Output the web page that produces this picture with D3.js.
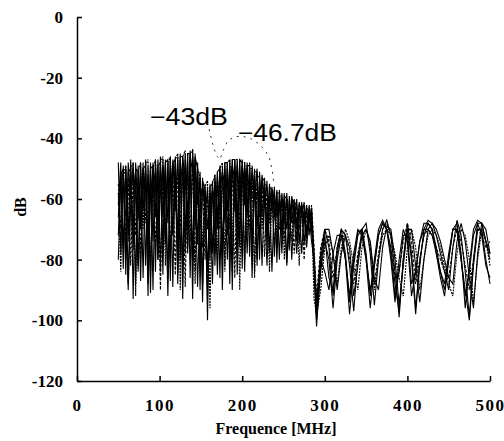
<!DOCTYPE html>
<html>
<head>
<meta charset="utf-8">
<script src="https://cdn.jsdelivr.net/npm/d3@7"></script>
<style>
  body { margin: 0; background: #fff; }
</style>
</head>
<body>
<div id="chart"></div>
<script>
// sampling grids (MHz)
const freqLow = d3.range(50, 291, 3);
const freqHigh = d3.range(290, 501, 5);

const xTicks = [0, 100, 200, 300, 400, 500];
const yTicks = [0, -20, -40, -60, -80, -100, -120];

// 50-290 MHz, dB, one per trace
const lowA = [-48,-78,-49,-85,-48,-60,-48,-88,-49,-70,
  -48,-82,-49,-91,-48,-66,-47,-84,-47,-75,
  -48,-87,-47,-64,-46,-80,-46,-72,-45,-86,
  -43.5,-70,-48,-82,-53,-66,-56,-80,-54,-72,
  -51,-86,-49,-68,-48,-80,-47,-64,-47,-76,
  -47,-62,-48,-79,-49,-60,-50,-74,-52,-63,
  -54,-78,-56,-66,-57,-80,-58,-68,-58,-76,
  -59,-66,-60,-75,-61,-68,-62,-72,-63,-78,
  -98];
const lowB = [-62,-48,-83,-49,-72,-47,-93,-48,-67,-48,
  -86,-47,-74,-48,-90,-47,-70,-46,-85,-47,
  -68,-46,-89,-46,-73,-45,-84,-45,-66,-44,
  -93,-45,-75,-51,-88,-55,-100,-55,-78,-52,
  -70,-49,-90,-48,-72,-47,-84,-47,-66,-47,
  -83,-48,-64,-48,-79,-50,-82,-51,-66,-53,
  -76,-55,-64,-56,-81,-57,-70,-58,-81,-59,
  -68,-60,-74,-61,-66,-61,-73,-62,-68,-82,
  -102];
const lowC = [-72,-52,-50,-80,-51,-50,-77,-50,-51,-87,
  -50,-49,-79,-50,-49,-84,-49,-48,-76,-48,
  -47,-82,-48,-47,-88,-46,-46,-78,-45,-45,
  -80,-46,-50,-90,-54,-57,-84,-56,-55,-82,
  -51,-50,-76,-48,-48,-88,-47,-47,-78,-47,
  -48,-84,-49,-49,-76,-51,-51,-80,-53,-54,
  -72,-56,-57,-79,-58,-58,-73,-59,-60,-77,
  -60,-61,-70,-62,-63,-75,-63,-64,-70,-80,
  -96];
const lowD = [-80,-55,-51,-66,-90,-62,-50,-58,-84,-60,
  -50,-57,-88,-59,-50,-55,-80,-58,-49,-56,
  -92,-57,-48,-54,-85,-56,-47,-52,-78,-52,
  -46,-55,-89,-60,-56,-62,-92,-63,-57,-60,
  -85,-58,-51,-56,-80,-55,-49,-54,-85,-56,
  -49,-55,-78,-57,-51,-58,-80,-60,-54,-61,
  -82,-62,-58,-64,-76,-63,-60,-65,-82,-65,
  -61,-66,-78,-65,-62,-66,-76,-66,-64,-84,
  -100];
const lowE = [-55,-70,-52,-75,-53,-82,-52,-72,-53,-79,
  -52,-68,-52,-84,-51,-76,-51,-90,-50,-72,
  -51,-79,-50,-85,-49,-70,-49,-89,-48,-74,
  -47,-84,-52,-70,-55,-80,-58,-72,-56,-78,
  -53,-70,-51,-82,-50,-70,-49,-86,-49,-70,
  -50,-80,-50,-70,-52,-84,-53,-66,-54,-79,
  -56,-68,-58,-76,-59,-70,-60,-74,-61,-70,
  -62,-78,-62,-70,-63,-80,-64,-68,-62,-76,
  -92];
const lowF = [-58,-84,-53,-49,-74,-50,-48,-92,-51,-48,
  -70,-49,-47,-86,-50,-47,-78,-48,-46,-82,
  -49,-46,-72,-47,-45,-90,-46,-44,-76,-45,
  -44,-88,-50,-53,-76,-56,-54,-96,-55,-52,
  -80,-50,-48,-84,-48,-47,-74,-47,-47,-90,
  -48,-48,-72,-50,-50,-86,-52,-53,-70,-55,
  -56,-84,-57,-58,-72,-59,-59,-80,-60,-61,
  -74,-61,-62,-82,-63,-63,-72,-64,-66,-93,
  -98];
const lowG = [-66,-51,-76,-50,-88,-51,-70,-50,-82,-51,
  -64,-50,-92,-50,-74,-49,-80,-49,-66,-49,
  -86,-48,-72,-48,-78,-47,-93,-47,-70,-46,
  -82,-47,-62,-53,-94,-57,-70,-58,-88,-54,
  -66,-51,-80,-50,-64,-49,-90,-49,-70,-49,
  -78,-50,-66,-51,-86,-52,-70,-54,-82,-56,
  -68,-58,-84,-59,-66,-60,-78,-60,-70,-61,
  -80,-62,-68,-63,-78,-64,-70,-65,-74,-80,
  -94];

// 290-500 MHz
const highA = [-98,-80,-70,-76,-92,-78,-70,-72,-82,-97,
  -80,-70,-68,-78,-95,-80,-70,-67,-72,-84,
  -99,-80,-68,-78,-96,-82,-70,-67,-68,-72,
  -78,-84,-90,-76,-67,-72,-84,-99,-80,-68,
  -68,-74,-80];
const highB = [-102,-82,-72,-86,-90,-76,-70,-78,-94,-80,
  -71,-70,-78,-92,-80,-70,-67,-70,-80,-94,
  -80,-70,-74,-92,-84,-74,-68,-68,-70,-76,
  -84,-90,-80,-70,-68,-78,-96,-82,-70,-67,
  -68,-74,-78];
const highC = [-96,-78,-70,-70,-78,-90,-78,-72,-76,-92,
  -82,-72,-70,-74,-86,-90,-76,-69,-70,-80,
  -95,-82,-70,-70,-82,-94,-80,-70,-68,-70,
  -74,-80,-86,-88,-74,-68,-74,-86,-96,-78,
  -68,-70,-78];
const highD = [-100,-84,-74,-80,-96,-80,-72,-80,-98,-82,
  -72,-70,-80,-96,-82,-72,-68,-70,-76,-88,
  -97,-80,-70,-80,-98,-80,-72,-68,-70,-78,
  -86,-92,-80,-70,-70,-80,-90,-100,-82,-70,
  -70,-80,-88];
const highE = [-92,-76,-70,-74,-86,-76,-70,-72,-80,-88,
  -78,-72,-70,-76,-88,-78,-70,-68,-72,-86,
  -84,-74,-68,-74,-88,-80,-72,-70,-72,-76,
  -80,-84,-86,-76,-70,-74,-82,-90,-80,-70,
  -72,-76,-74];
const highF = [-98,-90,-76,-72,-78,-88,-76,-70,-74,-82,
  -90,-76,-70,-74,-90,-80,-72,-70,-72,-78,
  -86,-92,-76,-70,-76,-90,-80,-72,-70,-72,
  -76,-82,-88,-92,-78,-70,-72,-80,-94,-80,
  -70,-74,-82];
const highG = [-94,-80,-84,-90,-78,-72,-72,-80,-92,-78,
  -70,-72,-80,-90,-82,-72,-68,-70,-78,-92,
  -84,-72,-72,-88,-84,-74,-70,-70,-72,-78,
  -84,-88,-78,-70,-70,-80,-92,-84,-72,-68,
  -72,-82,-86];

// dashed reference trace
const dashFreq = [160, 163, 166, 170, 173, 177, 182, 190, 200, 210, 220, 228, 233, 236, 238];
const dashDb = [-37, -40.5, -43.5, -46, -47, -44, -41, -39.5, -39.3, -40, -41.8, -44, -46.5, -50, -54];

const notes = ["\u221243dB", "\u221246.7dB"];

const width = 504, height = 441;
const serif = "'Liberation Serif', 'Times New Roman', serif";
const svg = d3.select("#chart").append("svg")
  .attr("width", width)
  .attr("height", height);

const x = d3.scaleLinear().domain([0, 500]).range([77, 490]);
const y = d3.scaleLinear().domain([-120, 0]).range([381, 17]);

const line = d3.line().x(d => x(d[0])).y(d => y(d[1]));

const traces = [
  [lowA, highA, null],
  [lowB, highB, null],
  [lowC, highC, null],
  [lowD, highD, null],
  [lowE, highE, "3,1.5"],
  [lowF, highF, "2,1"],
  [lowG, highG, null]
];

traces.forEach(([lo, hi, dash]) => {
  const pts = freqLow.map((f, i) => [f, lo[i]])
    .concat(freqHigh.slice(1).map((f, i) => [f, hi[i + 1]]));
  svg.append("path")
    .attr("d", line(pts))
    .attr("fill", "none")
    .attr("stroke", "#000")
    .attr("stroke-width", 1.1)
    .attr("stroke-dasharray", dash);
});

svg.append("path")
  .attr("d", line(dashFreq.map((f, i) => [f, dashDb[i]])))
  .attr("fill", "none")
  .attr("stroke", "#333")
  .attr("stroke-width", 1)
  .attr("stroke-dasharray", "2,5");

// axes
const yAxis = d3.axisLeft(y).tickValues(yTicks).tickFormat(d => String(d))
  .tickSizeInner(-5).tickSizeOuter(0).tickPadding(14);
const xAxis = d3.axisBottom(x).tickValues(xTicks).tickFormat(d => String(d))
  .tickSizeInner(-5).tickSizeOuter(0).tickPadding(18);

const gy = svg.append("g").attr("transform", "translate(77,0)").call(yAxis);
const gx = svg.append("g").attr("transform", "translate(0,381)").call(xAxis);

[gx, gy].forEach(g => {
  g.attr("font-family", serif).attr("font-size", 17);
  g.selectAll("path, line").attr("stroke", "#000").attr("stroke-width", 1.5);
  g.selectAll("text")
    .attr("fill", "#000")
    .style("font-family", serif)
    .style("font-weight", "bold")
    .style("font-size", "17px");
});
gx.selectAll("text").style("letter-spacing", "1.5px");

svg.append("text")
  .attr("x", 276)
  .attr("y", 434)
  .attr("text-anchor", "middle")
  .style("font-family", serif)
  .style("font-weight", "bold")
  .style("font-size", "16px")
  .text("Frequence [MHz]");

svg.append("text")
  .attr("transform", "translate(26,207) rotate(-90)")
  .attr("text-anchor", "middle")
  .style("font-family", serif)
  .style("font-weight", "bold")
  .style("font-size", "16px")
  .text("dB");

// peak annotations
svg.append("text")
  .attr("x", x(88.3))
  .attr("y", y(-35.6))
  .attr("textLength", 78)
  .attr("lengthAdjust", "spacingAndGlyphs")
  .style("font-family", "'Liberation Sans', Arial, sans-serif")
  .style("font-size", "23px")
  .text(notes[0]);

svg.append("text")
  .attr("x", x(194.8))
  .attr("y", y(-40.9))
  .attr("textLength", 99)
  .attr("lengthAdjust", "spacingAndGlyphs")
  .style("font-family", "'Liberation Sans', Arial, sans-serif")
  .style("font-size", "23px")
  .text(notes[1]);
</script>
</body>
</html>
